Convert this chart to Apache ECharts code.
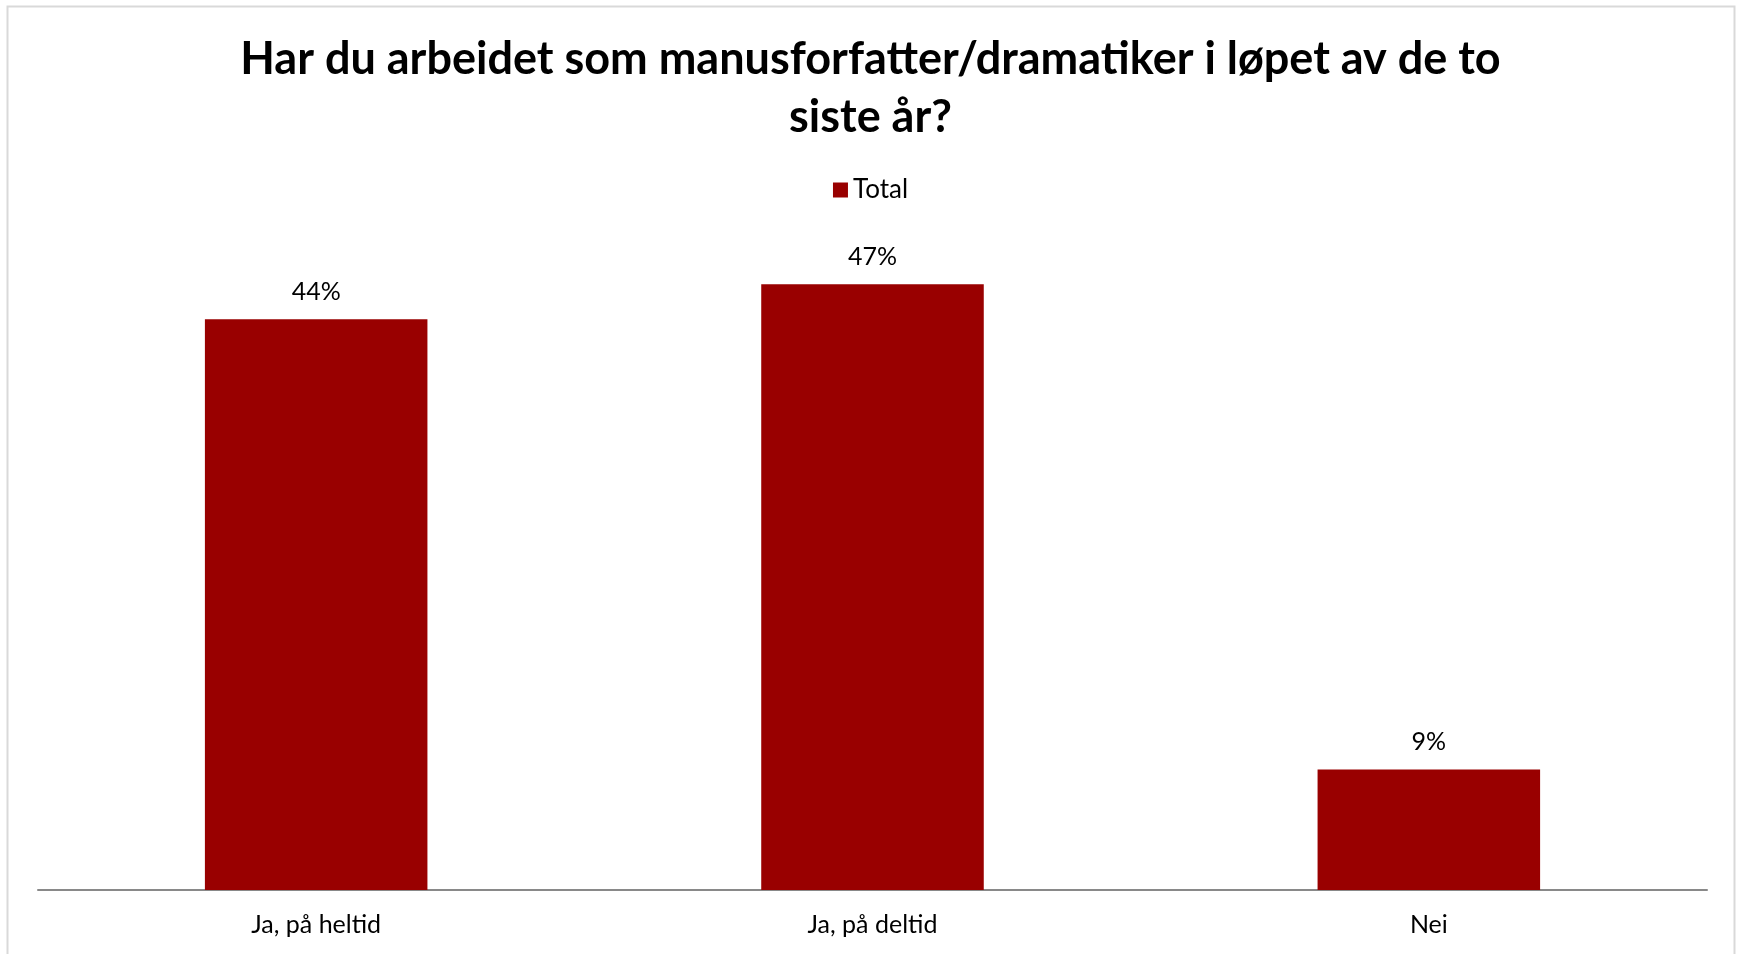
<!DOCTYPE html>
<html>
<head>
<meta charset="utf-8">
<script src="https://cdn.jsdelivr.net/npm/echarts@6/dist/echarts.min.js"></script>
<style>
    html, body { margin: 0; padding: 0; background: #fff; }
    #chart { width: 1741px; height: 954px; }
</style>
</head>
<body>
<div id="chart"></div>
<script>
const categories = ['Ja, på heltid', 'Ja, på deltid', 'Nei'];
const totalValues = [44.0, 46.7, 9.3];
const seriesName = 'Total';
const titleText = 'Har du arbeidet som manusforfatter/dramatiker i løpet av de to\nsiste år?';

const FONT = 'Lato, "Open Sans", sans-serif';
const BAR_COLOR = '#990000';

const chart = echarts.init(document.getElementById('chart'), null, { renderer: 'canvas' });

chart.setOption({
    animation: false,
    backgroundColor: '#fff',
    graphic: [
        {
            type: 'rect',
            shape: { x: 7.5, y: 6.5, width: 1727, height: 1000 },
            style: { fill: 'none', stroke: '#d9d9d9', lineWidth: 2 },
            silent: true,
        },
    ],
    title: {
        text: titleText,
        left: 'center',
        top: 25,
        textStyle: {
            fontFamily: FONT,
            fontWeight: 'bold',
            fontSize: 45,
            lineHeight: 58,
            color: '#000',
        },
    },
    legend: {
        top: 172,
        left: 'center',
        itemWidth: 15,
        itemHeight: 15,
        itemGap: 8,
        icon: 'rect',
        textStyle: { fontFamily: FONT, fontSize: 26, color: '#000' },
        data: [seriesName],
    },
    grid: {
        left: 38,
        right: 34,
        top: 241.5,
        bottom: 64,
        containLabel: false,
    },
    xAxis: {
        type: 'category',
        data: categories,
        axisLine: { lineStyle: { color: '#898989', width: 2 } },
        axisTick: { show: false },
        axisLabel: {
            fontFamily: FONT,
            fontSize: 25,
            color: '#000',
            margin: 22,
        },
    },
    yAxis: {
        type: 'value',
        min: 0,
        max: 50,
        show: false,
        splitLine: { show: false },
    },
    series: [
        {
            name: seriesName,
            type: 'bar',
            data: totalValues,
            barWidth: '40%',
            itemStyle: { color: BAR_COLOR },
            label: {
                show: true,
                position: 'top',
                distance: 15,
                fontFamily: FONT,
                fontSize: 25,
                color: '#000',
                formatter: p => `${Math.round(p.value)}%`,
            },
        },
    ],
});
</script>
</body>
</html>
